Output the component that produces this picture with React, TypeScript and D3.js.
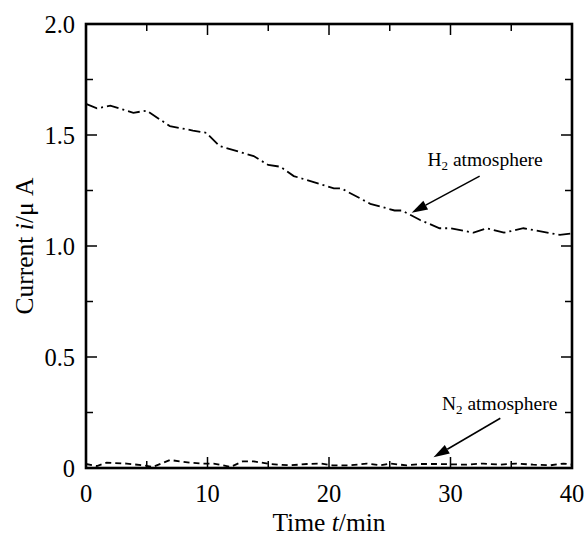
import React from "react";
import * as d3 from "d3";

// H2 atmosphere series (time in min, current in µA)
const h2Time = [0, 0.9, 2.0, 3.9, 5.0, 6.9, 8.8, 9.9, 11.0, 13.8, 15.0, 16.0, 17.1, 20.4, 21.0, 23.4, 25.4, 26.0, 27.5, 29.1, 30.0, 31.9, 33.0, 34.4, 36.0, 39.0, 40.0];
const h2Current = [1.64, 1.62, 1.632, 1.60, 1.61, 1.54, 1.52, 1.51, 1.45, 1.405, 1.365, 1.357, 1.315, 1.26, 1.26, 1.19, 1.16, 1.16, 1.117, 1.08, 1.08, 1.06, 1.08, 1.06, 1.08, 1.05, 1.057];

// N2 atmosphere series
const n2Time = [0, 0.9, 1.7, 3.35, 5.0, 5.5, 6.9, 8.6, 9.6, 10.5, 11.9, 12.9, 13.8, 15.1, 16.8, 18.2, 19.3, 20.3, 21.7, 23.1, 24.2, 25.0, 26.4, 27.5, 29.1, 31.3, 32.7, 34.1, 35.4, 36.8, 38.2, 39.3, 40.0];
const n2Current = [0.018, 0.009, 0.024, 0.02, 0.01, 0.005, 0.036, 0.024, 0.02, 0.02, 0.005, 0.03, 0.03, 0.018, 0.012, 0.018, 0.02, 0.012, 0.012, 0.02, 0.012, 0.02, 0.012, 0.018, 0.018, 0.015, 0.02, 0.015, 0.02, 0.015, 0.012, 0.02, 0.015];

const xMajorTicks = [0, 10, 20, 30, 40];
const xMinorTicks = [5, 15, 25, 35];
const yMajorTicks = [0, 0.5, 1.0, 1.5, 2.0];
const yMinorTicks = [0.25, 0.75, 1.25, 1.75];
const yTickLabels = ["0", "0.5", "1.0", "1.5", "2.0"];

const xTitle = "Time";
const xTitleVar = "t";
const xTitleUnit = "/min";
const yTitle = "Current ";
const yTitleVar = "i";
const yTitleUnit = "/μ A";

const h2Annot = { label: "H", sub: "2", rest: " atmosphere", tx: 28.1, tv: 1.36, fx: 32.4, fv: 1.315, ax: 26.8, av: 1.15 };
const n2Annot = { label: "N", sub: "2", rest: " atmosphere", tx: 29.3, tv: 0.26, fx: 34.1, fv: 0.224, ax: 28.6, av: 0.048 };

const W = 585;
const H = 536;
const M = { left: 86, right: 13, top: 24, bottom: 68 };
const FONT = "Liberation Serif, Tinos, Times New Roman, DejaVu Serif, serif";

function Arrow({ x1, y1, x2, y2 }: { x1: number; y1: number; x2: number; y2: number }) {
  const ang = Math.atan2(y2 - y1, x2 - x1);
  const len = 16;
  const half = 5;
  const bx = x2 - len * Math.cos(ang);
  const by = y2 - len * Math.sin(ang);
  const px = -Math.sin(ang) * half;
  const py = Math.cos(ang) * half;
  return (
    <g>
      <line x1={x1} y1={y1} x2={bx} y2={by} stroke="#000" strokeWidth={1.5} />
      <polygon points={`${x2},${y2} ${bx + px},${by + py} ${bx - px},${by - py}`} fill="#000" />
    </g>
  );
}

export default function App() {
  const x = d3.scaleLinear().domain([0, 40]).range([M.left, W - M.right]);
  const y = d3.scaleLinear().domain([0, 2]).range([H - M.bottom, M.top]);
  const line = d3
    .line<[number, number]>()
    .x((d) => x(d[0]))
    .y((d) => y(d[1]));
  const h2Data = h2Time.map((t, i) => [t, h2Current[i]] as [number, number]);
  const n2Data = n2Time.map((t, i) => [t, n2Current[i]] as [number, number]);

  const x0 = x(0), x1 = x(40), y0 = y(0), y1 = y(2);
  const maj = 11, min = 7;

  const annot = (a: typeof h2Annot) => (
    <g>
      <text x={x(a.tx)} y={y(a.tv)} style={{ fontFamily: FONT, fontSize: 19.5 }} fill="#000">
        {a.label}
        <tspan style={{ fontSize: 13 }} dy={4}>{a.sub}</tspan>
        <tspan dy={-4}>{a.rest}</tspan>
      </text>
      <Arrow x1={x(a.fx)} y1={y(a.fv)} x2={x(a.ax)} y2={y(a.av)} />
    </g>
  );

  return (
    <svg width={W} height={H} style={{ position: "absolute", left: 0, top: 0, background: "#fff" }}>
      <rect width={W} height={H} fill="#fff" />
      <path d={line(h2Data) || ""} fill="none" stroke="#000" strokeWidth={1.8} strokeDasharray="12 4 2 4" />
      <path d={line(n2Data) || ""} fill="none" stroke="#000" strokeWidth={1.8} strokeDasharray="6 4" />
      <g stroke="#000" strokeWidth={1.5}>
        {xMajorTicks.map((t) => (
          <g key={"xm" + t}>
            <line x1={x(t)} x2={x(t)} y1={y0} y2={y0 - maj} />
            <line x1={x(t)} x2={x(t)} y1={y1} y2={y1 + maj} />
          </g>
        ))}
        {xMinorTicks.map((t) => (
          <g key={"xn" + t}>
            <line x1={x(t)} x2={x(t)} y1={y0} y2={y0 - min} />
            <line x1={x(t)} x2={x(t)} y1={y1} y2={y1 + min} />
          </g>
        ))}
        {yMajorTicks.map((v) => (
          <g key={"ym" + v}>
            <line x1={x0} x2={x0 + maj} y1={y(v)} y2={y(v)} />
            <line x1={x1} x2={x1 - maj} y1={y(v)} y2={y(v)} />
          </g>
        ))}
        {yMinorTicks.map((v) => (
          <g key={"yn" + v}>
            <line x1={x0} x2={x0 + min} y1={y(v)} y2={y(v)} />
            <line x1={x1} x2={x1 - min} y1={y(v)} y2={y(v)} />
          </g>
        ))}
      </g>
      <rect x={x0} y={y1} width={x1 - x0} height={y0 - y1} fill="none" stroke="#000" strokeWidth={2.6} />
      {xMajorTicks.map((t) => (
        <text key={"xl" + t} x={x(t)} y={y0 + 34} textAnchor="middle" style={{ fontFamily: FONT, fontSize: 24.5 }} fill="#000">
          {t}
        </text>
      ))}
      {yMajorTicks.map((v, i) => (
        <text key={"yl" + v} x={x0 - 11} y={y(v)} dy="0.35em" textAnchor="end" style={{ fontFamily: FONT, fontSize: 24.5 }} fill="#000">
          {yTickLabels[i]}
        </text>
      ))}
      <text x={(x0 + x1) / 2} y={531} textAnchor="middle" style={{ fontFamily: FONT, fontSize: 25.5 }} fill="#000">
        {xTitle} <tspan fontStyle="italic">{xTitleVar}</tspan>
        {xTitleUnit}
      </text>
      <text transform={`translate(33,${(y0 + y1) / 2}) rotate(-90)`} textAnchor="middle" style={{ fontFamily: FONT, fontSize: 25.5 }} fill="#000">
        {yTitle}
        <tspan fontStyle="italic">{yTitleVar}</tspan>
        {yTitleUnit}
      </text>
      {annot(h2Annot)}
      {annot(n2Annot)}
    </svg>
  );
}
